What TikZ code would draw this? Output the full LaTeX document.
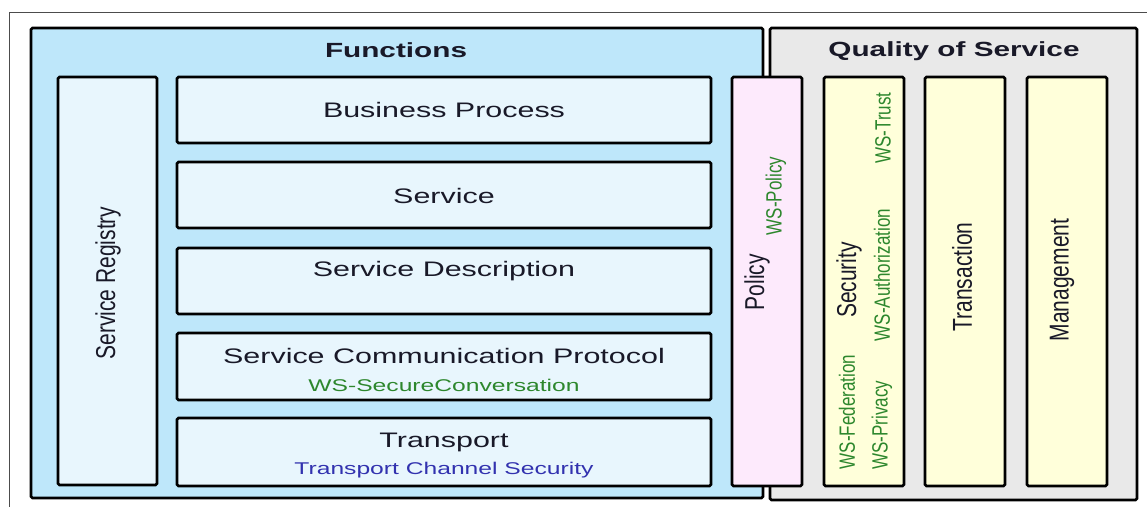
\documentclass[tikz,border=0pt]{standalone}
\usepackage{fontspec}
\setmainfont{Liberation Sans}
\definecolor{funcblue}{RGB}{190,231,250}
\definecolor{layerblue}{RGB}{232,246,253}
\definecolor{qosgray}{RGB}{233,233,233}
\definecolor{policypink}{RGB}{253,234,252}
\definecolor{qosyellow}{RGB}{255,255,218}
\definecolor{wsgreen}{RGB}{45,135,45}
\definecolor{chanblue}{RGB}{50,50,175}
\definecolor{ink}{RGB}{25,25,40}
\newcommand\hwide[1]{\scalebox{1.45}[1]{#1}}
\newcommand\vwide[1]{\scalebox{1}[1.3]{#1}}
\begin{document}
\begin{tikzpicture}[x=1pt,y=-1pt,
    box/.style={draw=black,line width=2.6pt,rounded corners=1.5pt,inner sep=0pt},
    layer/.style={box,fill=layerblue,minimum width=534pt},
    column/.style={box,fill=qosyellow,minimum width=80pt,minimum height=409pt},
    headtext/.style={font=\fontsize{20.5}{24}\selectfont\bfseries,text=ink},
    boxtext/.style={font=\fontsize{21}{25}\selectfont,text=ink},
    spectext/.style={font=\fontsize{17}{20}\selectfont,text=wsgreen},
    up/.style={rotate=90}]
    \useasboundingbox (0,0) rectangle (1147,506);
    %% outer frame
    \draw[gray!60!black,line width=0.9pt] (9,12) rectangle (1170,530);
    %% the two groups
    \node[box,fill=funcblue,minimum width=732pt,minimum height=470pt] (func) at (397,263) {};
    \node[box,fill=qosgray,minimum width=367pt,minimum height=472pt] (qos) at (953.5,264) {};
    \node[headtext] (funcT) at (396,50) {\hwide{Functions}};
    \node[headtext] (qosT) at (954,51) {\hwide{Quality of Service}};
    %% registry and layers
    \node[box,fill=layerblue,minimum width=99pt,minimum height=408pt] (reg) at (107.5,281) {};
    \node[boxtext,up] (regT) at (108,283) {\vwide{Service Registry}};
    \node[layer,minimum height=66pt] (bp) at (444,110) {};
    \node[layer,minimum height=66pt] (svc) at (444,195) {};
    \node[layer,minimum height=66pt] (sd) at (444,281) {};
    \node[layer,minimum height=67pt] (scp) at (444,366.5) {};
    \node[layer,minimum height=68pt] (tr) at (444,452) {};
    \node[boxtext] (bpT) at (444,110) {\hwide{Business Process}};
    \node[boxtext] (svcT) at (444,196) {\hwide{Service}};
    \node[boxtext] (sdT) at (444,271) {\hwide{Service Description}};
    \node[boxtext] (scpT) at (444,356) {\hwide{Service Communication Protocol}};
    \node[spectext] (scpS) at (444,385) {\hwide{WS-SecureConversation}};
    \node[boxtext] (trT) at (444,442) {\hwide{Transport}};
    \node[spectext,text=chanblue] (trS) at (444,470) {\hwide{Transport Channel Security}};
    %% policy spans both groups
    \node[box,fill=policypink,minimum width=70pt,minimum height=409pt] (pol) at (767,281.5) {};
    \node[boxtext,up] (polT) at (757,282) {\vwide{Policy}};
    \node[spectext,up] (polS) at (776,196) {\vwide{WS-Policy}};
    %% quality of service columns
    \node[column] (sec) at (864,281.5) {};
    \node[column] (tra) at (965,281.5) {};
    \node[column] (mgt) at (1067,281.5) {};
    \node[boxtext,up] (secT) at (849,280) {\vwide{Security}};
    \node[spectext,up] (fedS) at (847,412) {\vwide{WS-Federation}};
    \node[spectext,up] (authS) at (882,275) {\vwide{WS-Authorization}};
    \node[spectext,up] (privS) at (882,425) {\vwide{WS-Privacy}};
    \node[spectext,up] (trustS) at (883,128) {\vwide{WS-Trust}};
    \node[boxtext,up] (traT) at (962,277) {\vwide{Transaction}};
    \node[boxtext,up] (mgtT) at (1062,280) {\vwide{Management}};
\end{tikzpicture}
\end{document}
